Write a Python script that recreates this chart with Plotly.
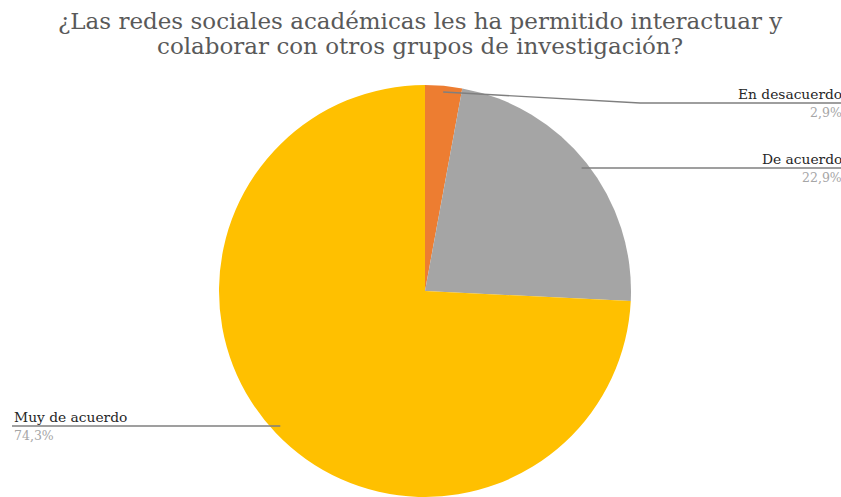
import math
import plotly.graph_objects as go

# Survey answers, in drawing order (clockwise from 12 o'clock)
categories = ["En desacuerdo", "De acuerdo", "Muy de acuerdo"]
shares = [2.9, 22.9, 74.3]
colors = ["#ED7D31", "#A5A5A5", "#FFC000"]

title_lines = ["¿Las redes sociales académicas les ha permitido interactuar y",
               "colaborar con otros grupos de investigación?"]

W, H = 841, 497
serif = "DejaVu Serif, Liberation Serif, serif"

# pie geometry in pixels (domain chosen so the disc sits centred under the title)
cx, cy, r = 425, 291, 206
dom_x = [(cx - 300) / W, (cx + 300) / W]
dom_y = [0, (H - (cy - r)) / H]

fig = go.Figure(go.Pie(
    labels=categories,
    values=shares,
    marker=dict(colors=colors, line=dict(width=0)),
    sort=False,
    direction="clockwise",
    rotation=0,
    textinfo="none",
    hoverinfo="label+percent",
    showlegend=False,
    domain=dict(x=dom_x, y=dom_y),
))

def fmt(v):
    return f"{v:.1f}".replace(".", ",") + "%"

# mid-angle anchor point of each slice on the rim (pixel coords)
total = sum(shares)
anchors = []
acc = 0.0
for v in shares:
    mid = (acc + v / 2) / total * 2 * math.pi
    acc += v
    anchors.append((cx + 0.97 * r * math.sin(mid), cy - 0.97 * r * math.cos(mid)))

# label placement: (leader y, text x, anchor side, bend x)
placements = [
    (103, W + 3, "right", 640),
    (168, W + 3, "right", None),
    (426, 12, "left", None),
]

def py(y):
    return 1 - y / H

shapes = []
annotations = []

# two-line title, set line by line for tighter leading
for i, line in enumerate(title_lines):
    annotations.append(dict(
        text=line, x=420 / W, y=py(21 + 25 * i), xref="paper", yref="paper",
        xanchor="center", yanchor="middle", showarrow=False,
        font=dict(family=serif, size=23, color="#595959"),
    ))

for (ax, ay), (ly, tx, side, bend), name, v in zip(anchors, placements, categories, shares):
    end_x = W if side == "right" else tx
    if side == "left":
        pts = [(ax, ly), (end_x, ly)]
    elif bend is not None:
        pts = [(ax, ay), (bend, ly), (end_x, ly)]
    else:
        pts = [(ax, ly), (end_x, ly)]
    path = "M " + " L ".join(f"{x / W:.5f},{py(y):.5f}" for x, y in pts)
    shapes.append(dict(type="path", path=path, xref="paper", yref="paper",
                       line=dict(color="#7F7F7F", width=1.4)))
    annotations.append(dict(
        text=name, x=tx / W, y=py(ly - 9), xref="paper", yref="paper",
        xanchor=side, yanchor="middle", showarrow=False,
        font=dict(family=serif, size=13.8, color="#262626"),
    ))
    annotations.append(dict(
        text=fmt(v), x=tx / W, y=py(ly + 9), xref="paper", yref="paper",
        xanchor=side, yanchor="middle", showarrow=False,
        font=dict(family=serif, size=12.5, color="#A6A6A6"),
    ))

fig.update_layout(
    width=W, height=H,
    margin=dict(l=0, r=0, t=0, b=0),
    paper_bgcolor="white", plot_bgcolor="white",
    font=dict(family=serif),
    shapes=shapes, annotations=annotations,
)

fig.write_html("out.html")
